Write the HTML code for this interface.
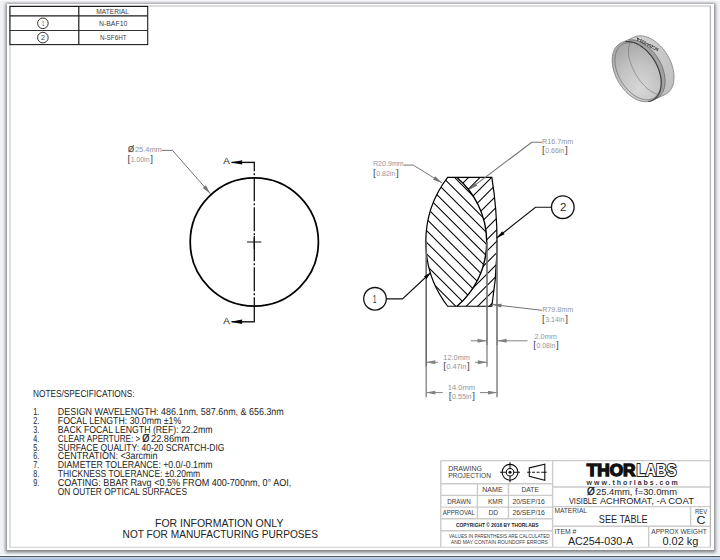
<!DOCTYPE html>
<html lang="en"><head><meta charset="utf-8"><title>AC254-030-A drawing</title>
<style>html,body{margin:0;padding:0;background:#fff;}body{width:720px;height:560px;overflow:hidden;}svg{display:block;}text{font-family:"Liberation Sans", sans-serif;}</style>
</head><body>
<svg width="720" height="560" viewBox="0 0 720 560">
<defs>
<linearGradient id="gblue" x1="0" y1="0" x2="0" y2="1"><stop offset="0" stop-color="#c3d6ee"/><stop offset="1" stop-color="#a3b8d8"/></linearGradient>
</defs>
<rect x="0" y="0" width="720" height="560" fill="#f0f2f6"/>
<rect x="0" y="0" width="720" height="1" fill="#fafafa"/>
<filter id="blur" x="-5%" y="-5%" width="110%" height="110%"><feGaussianBlur stdDeviation="1.6"/></filter>
<rect x="5.5" y="3.3" width="710" height="549.2" fill="#848488" filter="url(#blur)"/>
<rect x="7" y="4" width="707" height="546" fill="#ffffff"/>
<rect x="0" y="555" width="720" height="1" fill="#ffffff"/>
<rect x="0" y="556" width="720" height="1" fill="#4a5560"/>
<rect x="0" y="557" width="720" height="3" fill="url(#gblue)"/>
<line x1="10.00" y1="6.00" x2="10.00" y2="547.40" stroke="#d4d4d4" stroke-width="1.5"/>
<line x1="10.00" y1="6.10" x2="711.00" y2="6.10" stroke="#d0d0d0" stroke-width="1.5"/>
<line x1="710.40" y1="6.00" x2="710.40" y2="547.40" stroke="#b6b6b6" stroke-width="1.3"/>
<line x1="10.00" y1="547.40" x2="711.00" y2="547.40" stroke="#d8d8d8" stroke-width="1.1"/>
<rect x="9.9" y="6.45" width="137.8" height="38.15" fill="none" stroke="#1c1c1c" stroke-width="1.1"/>
<line x1="10.00" y1="15.80" x2="147.70" y2="15.80" stroke="#1c1c1c" stroke-width="1.3"/>
<line x1="10.00" y1="30.50" x2="147.70" y2="30.50" stroke="#1c1c1c" stroke-width="0.9"/>
<line x1="78.80" y1="6.40" x2="78.80" y2="44.60" stroke="#1c1c1c" stroke-width="1.2"/>
<circle cx="42.9" cy="23.3" r="5.3" fill="none" stroke="#1c1c1c" stroke-width="0.9"/>
<circle cx="42.9" cy="37.6" r="5.3" fill="none" stroke="#1c1c1c" stroke-width="0.9"/>
<text x="41.90" y="25.70" font-size="6.6" fill="#3c3c44" textLength="2.30" lengthAdjust="spacingAndGlyphs">1</text>
<text x="41.00" y="40.00" font-size="6.6" fill="#3c3c44" textLength="3.90" lengthAdjust="spacingAndGlyphs">2</text>
<text x="96.30" y="13.80" font-size="6.6" fill="#3c3c44" textLength="32.70" lengthAdjust="spacingAndGlyphs">MATERIAL</text>
<text x="99.00" y="25.70" font-size="6.6" fill="#3c3c44" textLength="28.30" lengthAdjust="spacingAndGlyphs">N-BAF10</text>
<text x="100.00" y="39.90" font-size="6.6" fill="#3c3c44" textLength="26.50" lengthAdjust="spacingAndGlyphs">N-SF6HT</text>
<circle cx="254.3" cy="242.0" r="64.1" fill="none" stroke="#000" stroke-width="1.75"/>
<line x1="254.30" y1="162.00" x2="254.30" y2="322.00" stroke="#111" stroke-width="1.3" stroke-dasharray="24 2 2 2" stroke-dashoffset="14.8"/>
<line x1="231.50" y1="162.40" x2="254.90" y2="162.40" stroke="#111" stroke-width="1.4"/>
<line x1="231.50" y1="321.80" x2="254.90" y2="321.80" stroke="#111" stroke-width="1.4"/>
<polygon points="230.80,162.40 242.10,160.20 242.10,164.60" fill="#000"/>
<polygon points="230.80,321.80 242.10,319.60 242.10,324.00" fill="#000"/>
<text x="223.20" y="164.00" font-size="8.5" fill="#222" textLength="6.60" lengthAdjust="spacingAndGlyphs">A</text>
<text x="223.20" y="324.00" font-size="8.5" fill="#222" textLength="6.60" lengthAdjust="spacingAndGlyphs">A</text>
<line x1="247.00" y1="242.00" x2="261.30" y2="242.00" stroke="#111" stroke-width="1"/>
<line x1="254.30" y1="236.00" x2="254.30" y2="249.00" stroke="#111" stroke-width="1.2"/>
<text x="127.90" y="152.00" font-size="8.4" fill="#4a4a4a" textLength="6.10" lengthAdjust="spacingAndGlyphs" stroke="#4a4a4a" stroke-width="0.25">Ø</text>
<text x="135.00" y="151.70" font-size="6.9" fill="#94949a" textLength="26.70" lengthAdjust="spacingAndGlyphs">25.4mm</text>
<text x="127.46" y="162.05" font-size="9.9" fill="#484848">[</text>
<text x="130.70" y="161.80" font-size="6.9" fill="#94949a" textLength="18.80" lengthAdjust="spacingAndGlyphs">1.00in</text>
<text x="150.20" y="162.05" font-size="9.9" fill="#484848">]</text>
<polyline points="161.7,150.4 172.5,150.4 210.5,193.8" fill="none" stroke="#737373" stroke-width="1"/>
<polygon points="210.50,193.80 202.80,187.90 205.75,185.35" fill="#737373"/>
<defs>
<clipPath id="c1"><path d="M447.66,177.45 A105.8,105.8 0 0 0 447.66,306.25 L456.96,306.25 A84.6,84.6 0 0 0 456.96,177.45 Z"/></clipPath>
<clipPath id="c2"><path d="M456.96,177.45 A84.6,84.6 0 0 1 456.96,306.25 L491.83,306.25 A404.0,404.0 0 0 0 491.83,177.45 Z"/></clipPath>
</defs>
<g clip-path="url(#c1)" stroke="#000" stroke-width="1.05">
<line x1="400" y1="99.70" x2="520" y2="219.70"/>
<line x1="400" y1="111.30" x2="520" y2="231.30"/>
<line x1="400" y1="122.90" x2="520" y2="242.90"/>
<line x1="400" y1="134.50" x2="520" y2="254.50"/>
<line x1="400" y1="146.10" x2="520" y2="266.10"/>
<line x1="400" y1="157.70" x2="520" y2="277.70"/>
<line x1="400" y1="169.30" x2="520" y2="289.30"/>
<line x1="400" y1="180.90" x2="520" y2="300.90"/>
<line x1="400" y1="192.50" x2="520" y2="312.50"/>
<line x1="400" y1="204.10" x2="520" y2="324.10"/>
<line x1="400" y1="215.70" x2="520" y2="335.70"/>
<line x1="400" y1="227.30" x2="520" y2="347.30"/>
<line x1="400" y1="238.90" x2="520" y2="358.90"/>
<line x1="400" y1="250.50" x2="520" y2="370.50"/>
<line x1="400" y1="262.10" x2="520" y2="382.10"/>
<line x1="400" y1="273.70" x2="520" y2="393.70"/>
<line x1="400" y1="285.30" x2="520" y2="405.30"/>
<line x1="400" y1="296.90" x2="520" y2="416.90"/>
<line x1="400" y1="308.50" x2="520" y2="428.50"/>
</g>
<g clip-path="url(#c2)" stroke="#000" stroke-width="1.05">
<line x1="400" y1="223.00" x2="520" y2="103.00"/>
<line x1="400" y1="234.50" x2="520" y2="114.50"/>
<line x1="400" y1="246.00" x2="520" y2="126.00"/>
<line x1="400" y1="257.50" x2="520" y2="137.50"/>
<line x1="400" y1="269.00" x2="520" y2="149.00"/>
<line x1="400" y1="280.50" x2="520" y2="160.50"/>
<line x1="400" y1="292.00" x2="520" y2="172.00"/>
<line x1="400" y1="303.50" x2="520" y2="183.50"/>
<line x1="400" y1="315.00" x2="520" y2="195.00"/>
<line x1="400" y1="326.50" x2="520" y2="206.50"/>
<line x1="400" y1="338.00" x2="520" y2="218.00"/>
<line x1="400" y1="349.50" x2="520" y2="229.50"/>
<line x1="400" y1="361.00" x2="520" y2="241.00"/>
<line x1="400" y1="372.50" x2="520" y2="252.50"/>
<line x1="400" y1="384.00" x2="520" y2="264.00"/>
<line x1="400" y1="395.50" x2="520" y2="275.50"/>
<line x1="400" y1="407.00" x2="520" y2="287.00"/>
<line x1="400" y1="418.50" x2="520" y2="298.50"/>
</g>
<path d="M447.66,177.45 A105.8,105.8 0 0 0 447.66,306.25 L491.83,306.25 A404.0,404.0 0 0 0 491.83,177.45 Z" fill="none" stroke="#000" stroke-width="1.2"/>
<path d="M456.96,177.45 A84.6,84.6 0 0 1 456.96,306.25" fill="none" stroke="#000" stroke-width="1.4"/>
<line x1="426.20" y1="241.85" x2="426.20" y2="366.70" stroke="#6a6a6a" stroke-width="1.6"/>
<line x1="426.20" y1="366.70" x2="426.20" y2="397.20" stroke="#8a8a8a" stroke-width="1.4"/>
<line x1="487.00" y1="241.85" x2="487.00" y2="345.00" stroke="#707070" stroke-width="1.6"/>
<line x1="487.00" y1="345.00" x2="487.00" y2="366.70" stroke="#8a8a8a" stroke-width="1.4"/>
<line x1="497.00" y1="241.85" x2="497.00" y2="345.00" stroke="#707070" stroke-width="1.6"/>
<line x1="497.00" y1="345.00" x2="497.00" y2="397.20" stroke="#7c7c7c" stroke-width="1.4"/>
<line x1="470.80" y1="340.80" x2="487.00" y2="340.80" stroke="#828282" stroke-width="1"/>
<polygon points="487.00,340.80 477.50,342.75 477.50,338.85" fill="#828282"/>
<line x1="497.10" y1="340.80" x2="527.50" y2="340.80" stroke="#828282" stroke-width="1"/>
<polygon points="497.10,340.80 506.60,338.85 506.60,342.75" fill="#828282"/>
<text x="534.50" y="338.50" font-size="6.9" fill="#94949a" textLength="22.40" lengthAdjust="spacingAndGlyphs">2.0mm</text>
<text x="533.26" y="348.05" font-size="9.9" fill="#484848">[</text>
<text x="536.50" y="347.80" font-size="6.9" fill="#94949a" textLength="18.80" lengthAdjust="spacingAndGlyphs">0.08in</text>
<text x="556.00" y="348.05" font-size="9.9" fill="#484848">]</text>
<line x1="426.30" y1="362.30" x2="437.80" y2="362.30" stroke="#828282" stroke-width="1"/>
<polygon points="425.80,362.30 435.30,360.35 435.30,364.25" fill="#828282"/>
<line x1="475.00" y1="362.30" x2="487.00" y2="362.30" stroke="#828282" stroke-width="1"/>
<polygon points="487.40,362.30 477.90,364.25 477.90,360.35" fill="#828282"/>
<text x="443.30" y="360.00" font-size="6.9" fill="#94949a" textLength="26.70" lengthAdjust="spacingAndGlyphs">12.0mm</text>
<text x="443.16" y="369.15" font-size="9.9" fill="#484848">[</text>
<text x="446.40" y="368.90" font-size="6.9" fill="#94949a" textLength="19.90" lengthAdjust="spacingAndGlyphs">0.47in</text>
<text x="467.00" y="369.15" font-size="9.9" fill="#484848">]</text>
<line x1="426.30" y1="392.60" x2="442.80" y2="392.60" stroke="#828282" stroke-width="1"/>
<polygon points="425.80,392.60 435.30,390.65 435.30,394.55" fill="#828282"/>
<line x1="480.00" y1="392.60" x2="497.10" y2="392.60" stroke="#828282" stroke-width="1"/>
<polygon points="497.50,392.60 488.00,394.55 488.00,390.65" fill="#828282"/>
<text x="447.80" y="390.00" font-size="6.9" fill="#94949a" textLength="27.20" lengthAdjust="spacingAndGlyphs">14.0mm</text>
<text x="448.66" y="399.45" font-size="9.9" fill="#484848">[</text>
<text x="451.90" y="399.20" font-size="6.9" fill="#94949a" textLength="19.70" lengthAdjust="spacingAndGlyphs">0.55in</text>
<text x="472.30" y="399.45" font-size="9.9" fill="#484848">]</text>
<polyline points="492,304.5 542,310.3" fill="none" stroke="#737373" stroke-width="1"/>
<polygon points="492.00,304.50 501.66,303.66 501.21,307.53" fill="#737373"/>
<text x="542.20" y="311.80" font-size="6.9" fill="#94949a" textLength="30.90" lengthAdjust="spacingAndGlyphs">R79.8mm</text>
<text x="541.96" y="321.85" font-size="9.9" fill="#484848">[</text>
<text x="545.20" y="321.60" font-size="6.9" fill="#94949a" textLength="19.40" lengthAdjust="spacingAndGlyphs">3.14in</text>
<text x="565.30" y="321.85" font-size="9.9" fill="#484848">]</text>
<text x="372.90" y="165.80" font-size="6.9" fill="#94949a" textLength="30.90" lengthAdjust="spacingAndGlyphs">R20.9mm</text>
<text x="373.06" y="175.65" font-size="9.9" fill="#484848">[</text>
<text x="376.30" y="176.00" font-size="6.9" fill="#94949a" textLength="19.00" lengthAdjust="spacingAndGlyphs">0.82in</text>
<text x="396.00" y="175.65" font-size="9.9" fill="#484848">]</text>
<polyline points="403.8,165.1 413.3,165.1 442.2,183.0" fill="none" stroke="#737373" stroke-width="1"/>
<polygon points="442.20,183.00 433.10,179.66 435.15,176.34" fill="#737373"/>
<text x="542.10" y="143.50" font-size="6.9" fill="#94949a" textLength="31.00" lengthAdjust="spacingAndGlyphs">R16.7mm</text>
<text x="541.96" y="152.95" font-size="9.9" fill="#484848">[</text>
<text x="545.20" y="152.70" font-size="6.9" fill="#94949a" textLength="19.00" lengthAdjust="spacingAndGlyphs">0.66in</text>
<text x="564.90" y="152.95" font-size="9.9" fill="#484848">]</text>
<polyline points="542,142.3 531.7,142.3 469.3,189.4" fill="none" stroke="#737373" stroke-width="1.1"/>
<polygon points="469.30,189.40 474.91,182.72 477.26,185.84" fill="#737373"/>
<circle cx="562.8" cy="207.2" r="11.3" fill="#fff" stroke="#111" stroke-width="1.3"/>
<text x="559.90" y="211.20" font-size="11" fill="#2a2a30" textLength="6.40" lengthAdjust="spacingAndGlyphs">2</text>
<polyline points="551.4,207.2 535.5,207.2 496.7,238" fill="none" stroke="#111" stroke-width="1.15"/>
<polygon points="496.70,238.00 502.18,231.23 504.54,234.20" fill="#000"/>
<circle cx="375" cy="298.8" r="11.3" fill="#fff" stroke="#111" stroke-width="1.3"/>
<text x="372.70" y="302.80" font-size="11" fill="#2a2a30" textLength="3.80" lengthAdjust="spacingAndGlyphs">1</text>
<polyline points="386.3,298.8 402.5,298.8 430.8,272.5" fill="none" stroke="#111" stroke-width="1.15"/>
<polygon points="430.80,272.50 426.53,278.92 424.08,276.29" fill="#000"/>
<text x="33.00" y="397.00" font-size="10.1" fill="#242424" textLength="101.50" lengthAdjust="spacingAndGlyphs" style="text-rendering:geometricPrecision">NOTES/SPECIFICATIONS:</text>
<text x="33.20" y="415.00" font-size="10.1" fill="#242424" textLength="6.00" lengthAdjust="spacingAndGlyphs" style="text-rendering:geometricPrecision">1.</text>
<text x="57.80" y="415.00" font-size="10.1" fill="#242424" textLength="226.00" lengthAdjust="spacingAndGlyphs" style="text-rendering:geometricPrecision">DESIGN WAVELENGTH: 486.1nm, 587.6nm, &amp; 656.3nm</text>
<text x="33.20" y="424.00" font-size="10.1" fill="#242424" textLength="6.00" lengthAdjust="spacingAndGlyphs" style="text-rendering:geometricPrecision">2.</text>
<text x="57.80" y="424.00" font-size="10.1" fill="#242424" textLength="123.50" lengthAdjust="spacingAndGlyphs" style="text-rendering:geometricPrecision">FOCAL LENGTH: 30.0mm ±1%</text>
<text x="33.20" y="433.00" font-size="10.1" fill="#242424" textLength="6.00" lengthAdjust="spacingAndGlyphs" style="text-rendering:geometricPrecision">3.</text>
<text x="57.80" y="433.00" font-size="10.1" fill="#242424" textLength="154.70" lengthAdjust="spacingAndGlyphs" style="text-rendering:geometricPrecision">BACK FOCAL LENGTH (REF): 22.2mm</text>
<text x="33.20" y="442.00" font-size="10.1" fill="#242424" textLength="6.00" lengthAdjust="spacingAndGlyphs" style="text-rendering:geometricPrecision">4.</text>
<text x="57.80" y="442.00" font-size="10.1" fill="#242424" textLength="82.50" lengthAdjust="spacingAndGlyphs" style="text-rendering:geometricPrecision">CLEAR APERTURE: &gt;</text>
<text x="33.20" y="451.00" font-size="10.1" fill="#242424" textLength="6.00" lengthAdjust="spacingAndGlyphs" style="text-rendering:geometricPrecision">5.</text>
<text x="57.80" y="451.00" font-size="10.1" fill="#242424" textLength="166.70" lengthAdjust="spacingAndGlyphs" style="text-rendering:geometricPrecision">SURFACE QUALITY: 40-20 SCRATCH-DIG</text>
<text x="33.20" y="459.00" font-size="10.1" fill="#242424" textLength="6.00" lengthAdjust="spacingAndGlyphs" style="text-rendering:geometricPrecision">6.</text>
<text x="57.80" y="459.00" font-size="10.1" fill="#242424" textLength="99.70" lengthAdjust="spacingAndGlyphs" style="text-rendering:geometricPrecision">CENTRATION: &lt;3arcmin</text>
<text x="33.20" y="468.00" font-size="10.1" fill="#242424" textLength="6.00" lengthAdjust="spacingAndGlyphs" style="text-rendering:geometricPrecision">7.</text>
<text x="57.80" y="468.00" font-size="10.1" fill="#242424" textLength="154.70" lengthAdjust="spacingAndGlyphs" style="text-rendering:geometricPrecision">DIAMETER TOLERANCE: +0.0/-0.1mm</text>
<text x="33.20" y="477.00" font-size="10.1" fill="#242424" textLength="6.00" lengthAdjust="spacingAndGlyphs" style="text-rendering:geometricPrecision">8.</text>
<text x="57.80" y="477.00" font-size="10.1" fill="#242424" textLength="142.20" lengthAdjust="spacingAndGlyphs" style="text-rendering:geometricPrecision">THICKNESS TOLERANCE: ±0.20mm</text>
<text x="33.20" y="486.30" font-size="10.1" fill="#242424" textLength="6.00" lengthAdjust="spacingAndGlyphs" style="text-rendering:geometricPrecision">9.</text>
<text x="57.80" y="486.30" font-size="10.1" fill="#242424" textLength="233.50" lengthAdjust="spacingAndGlyphs" style="text-rendering:geometricPrecision">COATING: BBAR Ravg &lt;0.5% FROM 400-700nm, 0° AOI,</text>
<text x="57.80" y="495.00" font-size="10.1" fill="#242424" textLength="129.20" lengthAdjust="spacingAndGlyphs" style="text-rendering:geometricPrecision">ON OUTER OPTICAL SURFACES</text>
<text x="142.30" y="442.00" font-size="10.6" fill="#111" textLength="7.20" lengthAdjust="spacingAndGlyphs" stroke="#111" stroke-width="0.2">Ø</text>
<text x="151.00" y="442.00" font-size="10.1" fill="#242424" textLength="38.50" lengthAdjust="spacingAndGlyphs" style="text-rendering:geometricPrecision">22.86mm</text>
<text x="155.00" y="527.30" font-size="10.5" fill="#242424" textLength="128.40" lengthAdjust="spacingAndGlyphs">FOR INFORMATION ONLY</text>
<text x="122.60" y="538.30" font-size="10.5" fill="#242424" textLength="195.40" lengthAdjust="spacingAndGlyphs">NOT FOR MANUFACTURING PURPOSES</text>
<line x1="440.80" y1="460.60" x2="710.00" y2="460.60" stroke="#cbcbcb" stroke-width="1.4"/>
<line x1="440.80" y1="460.60" x2="440.80" y2="547.00" stroke="#cbcbcb" stroke-width="1.4"/>
<line x1="552.60" y1="460.60" x2="552.60" y2="547.00" stroke="#cbcbcb" stroke-width="1.4"/>
<line x1="440.80" y1="483.80" x2="552.60" y2="483.80" stroke="#cbcbcb" stroke-width="1.4"/>
<line x1="440.80" y1="495.40" x2="552.60" y2="495.40" stroke="#cbcbcb" stroke-width="1.4"/>
<line x1="440.80" y1="507.10" x2="552.60" y2="507.10" stroke="#cbcbcb" stroke-width="1.4"/>
<line x1="440.80" y1="518.80" x2="552.60" y2="518.80" stroke="#cbcbcb" stroke-width="1.4"/>
<line x1="440.80" y1="530.80" x2="552.60" y2="530.80" stroke="#cbcbcb" stroke-width="1.4"/>
<line x1="477.40" y1="483.80" x2="477.40" y2="518.80" stroke="#cbcbcb" stroke-width="1.4"/>
<line x1="508.50" y1="483.80" x2="508.50" y2="518.80" stroke="#cbcbcb" stroke-width="1.4"/>
<line x1="552.60" y1="486.95" x2="710.00" y2="486.95" stroke="#cbcbcb" stroke-width="1.4"/>
<line x1="552.60" y1="506.60" x2="710.00" y2="506.60" stroke="#cbcbcb" stroke-width="1.4"/>
<line x1="552.60" y1="526.30" x2="710.00" y2="526.30" stroke="#cbcbcb" stroke-width="1.4"/>
<line x1="690.60" y1="506.60" x2="690.60" y2="526.30" stroke="#cbcbcb" stroke-width="1.4"/>
<line x1="648.70" y1="526.30" x2="648.70" y2="547.00" stroke="#cbcbcb" stroke-width="1.4"/>
<text x="448.20" y="471.00" font-size="7.2" fill="#3a3a40" textLength="33.80" lengthAdjust="spacingAndGlyphs">DRAWING</text>
<text x="448.20" y="477.80" font-size="7.2" fill="#3a3a40" textLength="42.80" lengthAdjust="spacingAndGlyphs">PROJECTION</text>
<g fill="none" stroke="#111" stroke-width="1.1">
<circle cx="510" cy="472.3" r="7.9"/><circle cx="510" cy="472.3" r="3.75"/>
<path d="M500,472.3H506.3 M513.7,472.3H520 M510,462.2V468.5 M510,476.1V482.3"/>
<polygon points="529.3,467.9 544.8,464.2 544.8,480.3 529.3,476.3"/>
<path d="M527.1,472.3H530.6 M532,472.3H535 M536.6,472.3H539.6 M541.2,472.3H546.7"/>
</g>
<circle cx="510" cy="472.3" r="1.5" fill="#111"/>
<text x="482.20" y="492.00" font-size="7.0" fill="#3a3a40" textLength="20.50" lengthAdjust="spacingAndGlyphs">NAME</text>
<text x="521.50" y="492.00" font-size="7.0" fill="#3a3a40" textLength="17.50" lengthAdjust="spacingAndGlyphs">DATE</text>
<text x="447.20" y="504.00" font-size="6.4" fill="#3a3a40" textLength="23.50" lengthAdjust="spacingAndGlyphs">DRAWN</text>
<text x="487.90" y="503.70" font-size="6.4" fill="#3a3a40" textLength="14.80" lengthAdjust="spacingAndGlyphs">KMR</text>
<text x="512.40" y="503.70" font-size="6.4" fill="#3a3a40" textLength="32.50" lengthAdjust="spacingAndGlyphs">20/SEP/16</text>
<text x="442.70" y="515.00" font-size="6.4" fill="#3a3a40" textLength="32.20" lengthAdjust="spacingAndGlyphs">APPROVAL</text>
<text x="488.50" y="514.80" font-size="6.4" fill="#3a3a40" textLength="9.70" lengthAdjust="spacingAndGlyphs">DD</text>
<text x="512.40" y="514.80" font-size="6.4" fill="#3a3a40" textLength="32.50" lengthAdjust="spacingAndGlyphs">26/SEP/16</text>
<text x="456.00" y="526.70" font-size="5.2" fill="#222" font-weight="bold" textLength="82.60" lengthAdjust="spacingAndGlyphs">COPYRIGHT © 2016 BY THORLABS</text>
<text x="449.00" y="537.60" font-size="4.9" fill="#3a3a40" textLength="100.70" lengthAdjust="spacingAndGlyphs">VALUES IN PARENTHESIS ARE CALCULATED</text>
<text x="451.00" y="543.50" font-size="4.9" fill="#3a3a40" textLength="96.80" lengthAdjust="spacingAndGlyphs">AND MAY CONTAIN ROUNDOFF ERRORS</text>
<text x="586.70" y="476.20" font-size="16.6" fill="#111" font-weight="bold" textLength="48.80" lengthAdjust="spacingAndGlyphs" stroke="#111" stroke-width="1.4">THOR</text>
<text x="636.60" y="476.20" font-size="16.6" fill="#fff" font-weight="bold" textLength="39.80" lengthAdjust="spacingAndGlyphs" stroke="#222" stroke-width="2.1" paint-order="stroke" stroke-linejoin="round">LABS</text>
<text x="586.6" y="484.6" font-size="7" fill="#33333b" font-weight="bold" textLength="91.2" lengthAdjust="spacing">www.thorlabs.com</text>
<text x="587.00" y="495.00" font-size="10.2" fill="#111" textLength="7.80" lengthAdjust="spacingAndGlyphs" stroke="#111" stroke-width="0.25">Ø</text>
<text x="596.00" y="495.00" font-size="8.6" fill="#242424" textLength="81.00" lengthAdjust="spacingAndGlyphs">25.4mm, f=30.0mm</text>
<text x="568.90" y="504.00" font-size="8.6" fill="#242424" textLength="28.00" lengthAdjust="spacingAndGlyphs">VISIBLE</text>
<text x="599.90" y="504.00" font-size="8.6" fill="#242424" textLength="53.90" lengthAdjust="spacingAndGlyphs">ACHROMAT,</text>
<text x="656.60" y="504.00" font-size="8.6" fill="#242424" textLength="37.40" lengthAdjust="spacingAndGlyphs">-A COAT</text>
<text x="554.40" y="512.90" font-size="6.4" fill="#3a3a40" textLength="32.60" lengthAdjust="spacingAndGlyphs">MATERIAL</text>
<text x="598.80" y="522.80" font-size="10.4" fill="#242424" textLength="48.90" lengthAdjust="spacingAndGlyphs">SEE TABLE</text>
<text x="695.00" y="513.60" font-size="6.4" fill="#3a3a40" textLength="12.20" lengthAdjust="spacingAndGlyphs">REV</text>
<text x="696.60" y="523.50" font-size="10.4" fill="#242424" textLength="9.00" lengthAdjust="spacingAndGlyphs">C</text>
<text x="554.40" y="533.60" font-size="6.4" fill="#3a3a40" textLength="21.80" lengthAdjust="spacingAndGlyphs">ITEM #</text>
<text x="567.90" y="544.70" font-size="10.4" fill="#242424" textLength="65.20" lengthAdjust="spacingAndGlyphs">AC254-030-A</text>
<text x="651.30" y="533.60" font-size="6.4" fill="#3a3a40" textLength="55.40" lengthAdjust="spacingAndGlyphs">APPROX WEIGHT</text>
<text x="662.40" y="544.70" font-size="10.4" fill="#242424" textLength="36.10" lengthAdjust="spacingAndGlyphs">0.02 kg</text>
<defs>
<linearGradient id="iside" x1="0" y1="0" x2="1" y2="1"><stop offset="0" stop-color="#d6d6d6"/><stop offset="1" stop-color="#bdbdbd"/></linearGradient>
<radialGradient id="iface" cx="0.55" cy="0.8" r="0.75"><stop offset="0" stop-color="#d8d8d8"/><stop offset="0.6" stop-color="#c2c2c2"/><stop offset="1" stop-color="#acacac"/></radialGradient>
</defs>
<path d="M612.29,60.66 L612.31,59.20 L612.39,57.79 L612.54,56.41 L612.75,55.07 L613.03,53.78 L613.38,52.54 L613.79,51.34 L614.26,50.21 L614.80,49.13 L615.39,48.12 L616.05,47.17 L616.76,46.28 L617.52,45.47 L618.34,44.72 L619.21,44.05 L620.12,43.46 L621.09,42.94 L633.89,37.24 L634.89,36.81 L635.94,36.45 L637.02,36.17 L638.14,35.97 L639.28,35.86 L640.46,35.83 L641.66,35.88 L642.88,36.01 L644.13,36.22 L645.38,36.52 L646.65,36.90 L647.93,37.35 L649.21,37.88 L650.49,38.49 L651.77,39.18 L653.04,39.94 L654.30,40.77 L655.55,41.67 L656.78,42.63 L658.00,43.66 L659.19,44.75 L660.35,45.90 L661.49,47.10 L662.59,48.36 L663.66,49.66 L664.68,51.01 L665.67,52.39 L666.61,53.82 L667.51,55.28 L668.35,56.76 L669.15,58.27 L669.89,59.81 L670.57,61.36 L671.20,62.92 L671.77,64.49 L672.28,66.06 L672.72,67.64 L673.10,69.20 L673.42,70.76 L673.67,72.31 L673.86,73.84 L673.98,75.34 L674.03,76.83 L674.01,78.28 L673.93,79.69 L673.78,81.07 L673.57,82.41 L673.29,83.70 L672.94,84.94 L672.53,86.14 L672.06,87.27 L671.52,88.35 L670.93,89.36 L670.27,90.31 L669.56,91.20 L668.80,92.01 L667.98,92.76 L667.11,93.42 L666.20,94.02 L665.23,94.54 L652.43,100.24 L651.43,100.67 L650.38,101.03 L649.30,101.31 L648.18,101.51 L647.04,101.62 L645.86,101.65 L644.66,101.60 L643.43,101.47 L642.19,101.26 L640.94,100.96 L639.67,100.58 L638.39,100.13 L637.11,99.60 L635.83,98.98 L634.55,98.30 L633.28,97.54 L632.02,96.71 L630.77,95.81 L629.54,94.85 L628.32,93.82 L627.13,92.73 L625.97,91.58 L624.83,90.38 L623.73,89.12 L622.66,87.82 L621.64,86.47 L620.65,85.09 L619.71,83.66 L618.81,82.20 L617.97,80.72 L617.17,79.20 L616.43,77.67 L615.75,76.12 L615.12,74.56 L614.55,72.99 L614.04,71.42 L613.60,69.84 L613.22,68.28 L612.90,66.72 L612.65,65.17 L612.46,63.64 L612.34,62.14 Z" fill="url(#iside)" stroke="#7a7a7a" stroke-width="0.8"/>
<path d="M625.34,41.67 L626.48,41.56 L627.66,41.53 L628.86,41.58 L630.09,41.71 L631.33,41.92 L632.58,42.22 L633.85,42.59 L635.13,43.05 L636.41,43.58 L637.69,44.19 L638.97,44.88 L640.24,45.64 L641.50,46.47 L642.75,47.37 L643.98,48.33 L645.20,49.36 L646.39,50.45 L647.55,51.60 L648.69,52.80 L649.79,54.06 L650.86,55.36 L651.88,56.71 L652.87,58.09 L653.81,59.52 L654.71,60.98 L655.55,62.46 L656.35,63.97 L657.09,65.51 L657.77,67.06 L658.40,68.62 L658.97,70.19 L659.48,71.76 L659.92,73.34 L660.30,74.90 L660.62,76.46 L660.87,78.01 L661.06,79.54 L661.18,81.04 L661.23,82.52 L661.21,83.98 L661.13,85.39 L660.98,86.77 L660.77,88.11 L660.49,89.40 L660.14,90.64 L659.73,91.83 L659.26,92.97 L658.72,94.05 L658.13,95.06 L657.47,96.01 L656.76,96.90 L656.00,97.71 L655.18,98.46 L654.31,99.13 L653.40,99.72 L652.43,100.24 L651.43,100.67 L650.38,101.03 L649.30,101.31 L648.18,101.51 L652.02,99.80 L653.14,99.60 L654.22,99.32 L655.27,98.96 L656.27,98.53 L657.24,98.01 L658.15,97.42 L659.02,96.75 L659.84,96.00 L660.60,95.19 L661.31,94.30 L661.97,93.35 L662.56,92.34 L663.10,91.26 L663.57,90.12 L663.98,88.93 L664.33,87.69 L664.61,86.40 L664.82,85.06 L664.97,83.68 L665.05,82.27 L665.07,80.81 L665.02,79.33 L664.90,77.83 L664.71,76.30 L664.46,74.75 L664.14,73.19 L663.76,71.63 L663.32,70.05 L662.81,68.48 L662.24,66.91 L661.61,65.35 L660.93,63.80 L660.19,62.26 L659.39,60.75 L658.55,59.27 L657.65,57.81 L656.71,56.38 L655.72,55.00 L654.70,53.65 L653.63,52.35 L652.53,51.09 L651.39,49.89 L650.23,48.74 L649.04,47.65 L647.82,46.62 L646.59,45.66 L645.34,44.76 L644.08,43.93 L642.81,43.17 L641.53,42.48 L640.25,41.87 L638.97,41.34 L637.69,40.88 L636.42,40.51 L635.17,40.21 L633.93,40.00 L632.70,39.87 L631.50,39.82 L630.32,39.85 L629.18,39.96 Z" fill="#a2a2a2"/>
<path d="M629.18,39.96 L630.32,39.85 L631.50,39.82 L632.70,39.87 L633.93,40.00 L635.17,40.21 L636.42,40.51 L637.69,40.88 L638.97,41.34 L640.25,41.87 L641.53,42.48 L642.81,43.17 L644.08,43.93 L645.34,44.76 L646.59,45.66 L647.82,46.62 L649.04,47.65 L650.23,48.74 L651.39,49.89 L652.53,51.09 L653.63,52.35 L654.70,53.65 L655.72,55.00 L656.71,56.38 L657.65,57.81 L658.55,59.27 L659.39,60.75 L660.19,62.26 L660.93,63.80 L661.61,65.35 L662.24,66.91 L662.81,68.48 L663.32,70.05 L663.76,71.63 L664.14,73.19 L664.46,74.75 L664.71,76.30 L664.90,77.83 L665.02,79.33 L665.07,80.81 L665.05,82.27 L664.97,83.68 L664.82,85.06 L664.61,86.40 L664.33,87.69 L663.98,88.93 L663.57,90.12 L663.10,91.26 L662.56,92.34 L661.97,93.35 L661.31,94.30 L660.60,95.19 L659.84,96.00 L659.02,96.75 L658.15,97.42 L657.24,98.01 L656.27,98.53 L655.27,98.96 L654.22,99.32 L653.14,99.60 L652.02,99.80" fill="none" stroke="#5a5a5a" stroke-width="0.7"/>
<path d="M654.71,60.98 L655.55,62.46 L656.35,63.97 L657.09,65.51 L657.77,67.06 L658.40,68.62 L658.97,70.19 L659.48,71.76 L659.92,73.34 L660.30,74.90 L660.62,76.46 L660.87,78.01 L661.06,79.54 L661.18,81.04 L661.23,82.52 L661.21,83.98 L661.13,85.39 L660.98,86.77 L660.77,88.11 L660.49,89.40 L660.14,90.64 L659.73,91.83 L659.26,92.97 L658.72,94.05 L658.13,95.06 L657.47,96.01 L656.76,96.90 L656.00,97.71 L655.18,98.46 L654.31,99.13 L653.40,99.72 L652.43,100.24 L651.43,100.67 L650.38,101.03 L649.30,101.31 L648.18,101.51 L647.04,101.62 L645.86,101.65 L644.66,101.60 L643.43,101.47 L642.19,101.26 L640.94,100.96 L639.67,100.59 L638.39,100.13 L637.11,99.60 L635.83,98.99 L634.55,98.30 L633.28,97.54 L632.02,96.71 L630.77,95.81 L629.54,94.85 L628.32,93.82 L627.13,92.73 L625.97,91.58 L624.83,90.38 L623.73,89.12 L622.66,87.82 L621.64,86.47 L620.65,85.09 L619.71,83.66 L618.81,82.20 L617.97,80.72 L617.17,79.21 L616.43,77.67 L615.75,76.12 L615.12,74.56 L614.55,72.99 L614.04,71.42 L613.60,69.84 L613.22,68.28 L612.90,66.72 L612.65,65.17 L612.46,63.64 L612.34,62.14 L612.29,60.66 L612.31,59.20 L612.39,57.79 L612.54,56.41 L612.75,55.07 L613.03,53.78 L613.38,52.54 L613.79,51.35 L614.26,50.21 L614.80,49.13 L615.39,48.12 L616.05,47.17 L616.76,46.28 L617.52,45.47 L618.34,44.72 L619.21,44.05 L620.12,43.46 L621.09,42.94 L622.09,42.51 L623.14,42.15 L624.22,41.87 L625.34,41.67 L626.48,41.56 L627.66,41.53 L628.86,41.58 L630.09,41.71 L631.33,41.92 L632.58,42.22 L633.85,42.59 L635.13,43.05 L636.41,43.58 L637.69,44.19 L638.97,44.88 L640.24,45.64 L641.50,46.47 L642.75,47.37 L643.98,48.33 L645.20,49.36 L646.39,50.45 L647.55,51.60 L648.69,52.80 L649.79,54.06 L650.86,55.36 L651.88,56.71 L652.87,58.09 L653.81,59.52 L654.71,60.98 Z" fill="url(#iface)" stroke="#8a8a8a" stroke-width="0.7"/>
<path d="M660.03,89.51 L659.66,90.63 L659.22,91.70 L658.73,92.72 L658.18,93.67 L657.57,94.57 L656.92,95.40 L656.21,96.16 L655.44,96.86 L654.64,97.49 L653.78,98.04 L652.88,98.52 L651.94,98.93 L650.97,99.26 L649.95,99.52 L648.91,99.69 L647.83,99.79 L646.73,99.81 L645.60,99.76 L644.46,99.62 L643.29,99.41 L642.11,99.12 L640.92,98.75 L639.72,98.31 L638.52,97.80 L637.31,97.21 L636.11,96.55 L634.91,95.82 L633.72,95.02 L632.54,94.16 L631.37,93.24 L630.23,92.26 L629.10,91.22 L628.00,90.12 L626.93,88.97 L625.88,87.78 L624.87,86.54 L623.90,85.25 L622.96,83.93 L622.07,82.58 L621.22,81.19 L620.41,79.78 L619.66,78.34 L618.95,76.88 L618.30,75.41 L617.69,73.93 L617.15,72.44 L616.66,70.95 L616.23,69.45 L615.86,67.97 L615.55,66.49 L615.30,65.02 L615.12,63.58 L614.99,62.15 L614.93,60.75 L614.93,59.37 L615.00,58.03 L615.13,56.73 L615.32,55.47 L615.57,54.25 L615.89,53.07 L616.26,51.95 L616.70,50.88 L617.19,49.86 L617.74,48.91 L618.35,48.01 L619.00,47.18 L619.71,46.42 L620.48,45.72 L621.28,45.09 L622.14,44.54 L623.04,44.06 L623.98,43.65 L624.95,43.32 L625.97,43.06 L627.01,42.89 L628.09,42.79 L629.19,42.77 L630.32,42.82 L631.46,42.96 L632.63,43.17" fill="none" stroke="#6a6a6a" stroke-width="0.7"/>
<path d="M625.34,41.67 L626.48,41.56 L627.66,41.53 L628.86,41.58 L630.09,41.71 L631.33,41.92 L632.58,42.22 L633.85,42.59 L635.13,43.05 L636.41,43.58 L637.69,44.19 L638.97,44.88 L640.24,45.64 L641.50,46.47 L642.75,47.37 L643.98,48.33 L645.20,49.36 L646.39,50.45 L647.55,51.60 L648.69,52.80 L649.79,54.06 L650.86,55.36 L651.88,56.71 L652.87,58.09 L653.81,59.52 L654.71,60.98 L655.55,62.46 L656.35,63.97 L657.09,65.51 L657.77,67.06 L658.40,68.62 L658.97,70.19 L659.48,71.76 L659.92,73.34 L660.30,74.90 L660.62,76.46 L660.87,78.01 L661.06,79.54 L661.18,81.04 L661.23,82.52 L661.21,83.98 L661.13,85.39 L660.98,86.77 L660.77,88.11 L660.49,89.40 L660.14,90.64 L659.73,91.83 L659.26,92.97 L658.72,94.05 L658.13,95.06 L657.47,96.01 L656.76,96.90 L656.00,97.71 L655.18,98.46 L654.31,99.13 L653.40,99.72 L652.43,100.24 L651.43,100.67 L650.38,101.03 L649.30,101.31 L648.18,101.51" fill="none" stroke="#3a3a3a" stroke-width="1.1"/>
<path d="M658.62,94.54 L657.83,94.36 L657.02,94.14 L656.21,93.87 L655.38,93.55 L654.54,93.19 L653.69,92.78 L652.84,92.33 L651.98,91.83 L651.11,91.29 L650.25,90.70 L649.38,90.08 L648.51,89.42 L647.64,88.71 L646.78,87.97 L645.92,87.19 L645.07,86.38 L644.22,85.53 L643.39,84.65 L642.56,83.74 L641.75,82.80 L640.95,81.83 L640.16,80.83 L639.39,79.82 L638.64,78.77 L637.90,77.71 L637.19,76.63 L636.50,75.53 L635.83,74.42 L635.18,73.29 L634.55,72.15 L633.96,71.00 L633.39,69.84 L632.84,68.68 L632.33,67.51 L631.84,66.35 L631.38,65.18 L630.96,64.01 L630.56,62.85 L630.20,61.70 L629.88,60.55 L629.58,59.41 L629.32,58.29 L629.09,57.18 L628.90,56.08 L628.74,55.01 L628.62,53.95 L628.54,52.91 L628.49,51.90 L628.47,50.91 L628.50,49.95 L628.55,49.02 L628.65,48.12 L628.78,47.24 L628.94,46.41 L629.14,45.60 L629.38,44.83 L629.64,44.10 L629.95,43.41 L630.28,42.75 L630.65,42.14" fill="none" stroke="#6e6e6e" stroke-width="0.6"/>
<g style="filter:grayscale(1)"><text transform="translate(658.7,48.5) rotate(208) skewX(20)" font-size="4.4" font-weight="bold" fill="#1a1a1a" textLength="25" lengthAdjust="spacingAndGlyphs">AC254-030-A</text></g>
</svg></body></html>
